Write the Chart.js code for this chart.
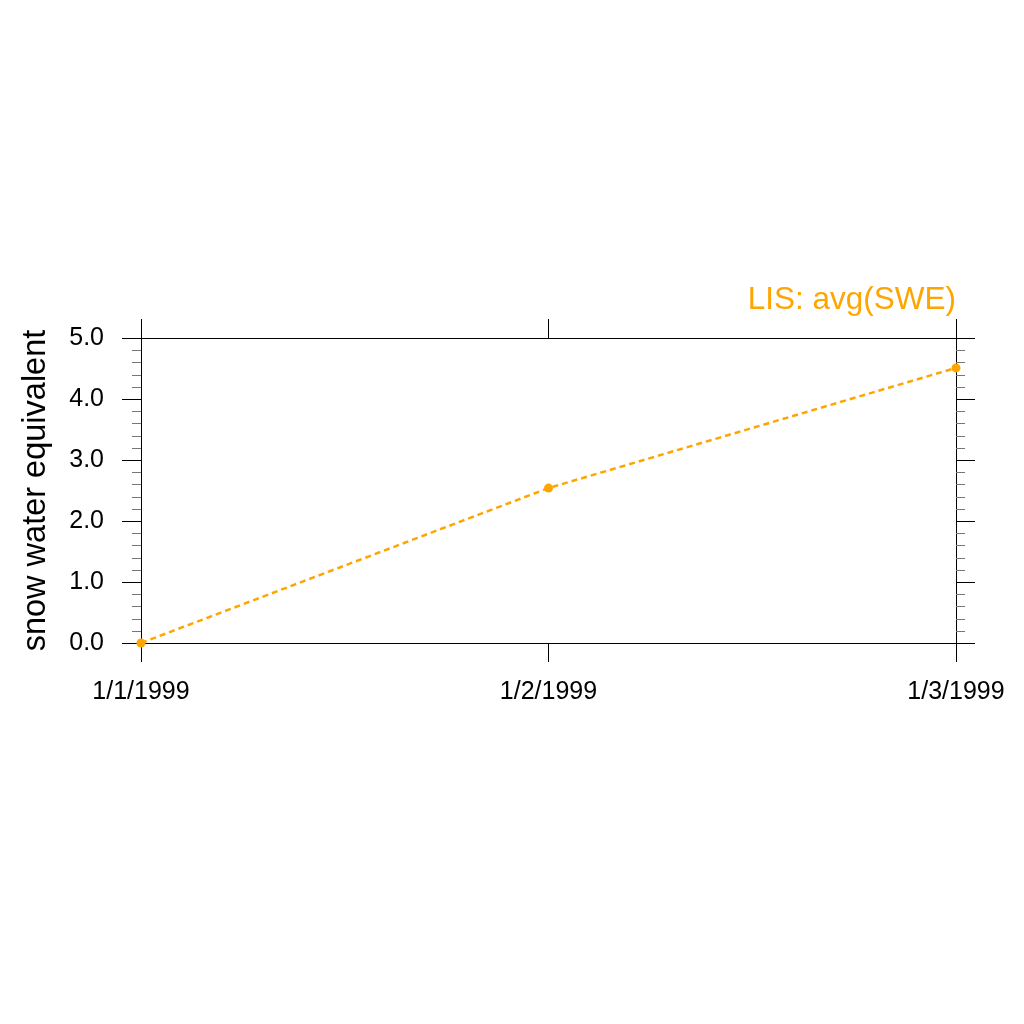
<!DOCTYPE html>
<html>
<head>
<meta charset="utf-8">
<script src="https://cdn.jsdelivr.net/npm/chart.js@4/dist/chart.umd.min.js"></script>
<style>
  html, body { margin: 0; padding: 0; background: #fff; }
  #wrap { width: 1024px; height: 1024px; }
</style>
</head>
<body>
<div id="wrap"><canvas id="sweChart" width="1024" height="1024"></canvas></div>
<script>
const ctx = document.getElementById('sweChart').getContext('2d')

// data
const dateLabels = ['1/1/1999', '1/2/1999', '1/3/1999']
const sweValues = [0.0, 2.54, 4.51]
const yTickValues = [0, 1, 2, 3, 4, 5]
const seriesName = 'LIS: avg(SWE)'
const yTitle = 'snow water equivalent'
const minorStep = 0.2

const orange = '#FFA500'
const fontFam = '"Liberation Sans", Arial, Helvetica, sans-serif'

const points = dateLabels.map((d, i) => ({ x: i, y: sweValues[i] }))

// minor ticks on both y sides, placed with the y scale
const minorTicks = {
    id: 'minorTicks',
    afterDraw(chart) {
        const y = chart.scales.y
        const area = chart.chartArea
        const c = chart.ctx
        c.save()
        c.strokeStyle = '#777'
        c.lineWidth = 1
        for (let v = y.min; v <= y.max + 1e-9; v += minorStep) {
            if (yTickValues.some(t => Math.abs(t - v) < 1e-6)) continue
            const py = Math.round(y.getPixelForValue(v)) + 0.5
            c.beginPath()
            c.moveTo(area.left - 9, py); c.lineTo(area.left, py)
            c.moveTo(area.right, py); c.lineTo(area.right + 9, py)
            c.stroke()
        }
        c.restore()
    }
}

const tickGrid = {
    drawOnChartArea: false,
    drawTicks: true,
    tickLength: 19,
    color: '#000',
    lineWidth: 1,
}

const data = {
    datasets: [{
        label: seriesName,
        data: points,
        borderColor: orange,
        backgroundColor: orange,
        borderWidth: 2.5,
        borderDash: [6, 4],
        pointRadius: 4.5,
        pointBorderWidth: 0,
        pointBackgroundColor: orange,
        tension: 0,
        clip: false,
    }],
}

const config = {
    type: 'line',
    data: data,
    options: {
        responsive: false,
        animation: false,
        layout: { padding: { top: 282, right: 49, bottom: 281, left: 0 } },
        plugins: {
            legend: { display: false },
            tooltip: { enabled: false },
            title: {
                display: true,
                text: seriesName,
                align: 'end',
                fullSize: false,
                color: orange,
                font: { family: fontFam, size: 31.5, weight: 'normal', lineHeight: 1.175 },
                padding: 0,
            },
        },
        scales: {
            x: {
                type: 'linear',
                position: 'bottom',
                min: 0,
                max: dateLabels.length - 1,
                grid: tickGrid,
                border: { display: true, color: '#000', width: 1 },
                ticks: {
                    stepSize: 1,
                    autoSkip: false,
                    maxRotation: 0,
                    padding: 15,
                    color: '#000',
                    font: { family: fontFam, size: 25 },
                    callback: (v) => dateLabels[v],
                },
                afterFit: (s) => { s.height = 100 },
            },
            x2: {
                type: 'linear',
                position: 'top',
                min: 0,
                max: dateLabels.length - 1,
                grid: tickGrid,
                border: { display: true, color: '#000', width: 1 },
                ticks: { stepSize: 1, display: false },
                afterFit: (s) => { s.height = 19 },
            },
            y: {
                position: 'left',
                min: 0,
                max: 5,
                grid: tickGrid,
                border: { display: true, color: '#000', width: 1 },
                afterBuildTicks: (s) => { s.ticks = yTickValues.map(v => ({ value: v })) },
                ticks: {
                    padding: 18,
                    color: '#000',
                    font: { family: fontFam, size: 25 },
                    callback: (v) => Number(v).toFixed(1),
                },
                title: {
                    display: true,
                    text: yTitle,
                    color: '#000',
                    font: { family: fontFam, size: 32.5, lineHeight: 1.2 },
                    padding: { top: 17, bottom: 0 },
                },
                afterFit: (s) => { s.width = 141 },
            },
            y2: {
                position: 'right',
                min: 0,
                max: 5,
                grid: tickGrid,
                border: { display: true, color: '#000', width: 1 },
                afterBuildTicks: (s) => { s.ticks = yTickValues.map(v => ({ value: v })) },
                ticks: { display: false },
                afterFit: (s) => { s.width = 19 },
            },
        },
    },
    plugins: [minorTicks],
}

const myChart = new Chart(ctx, config)
</script>
</body>
</html>
